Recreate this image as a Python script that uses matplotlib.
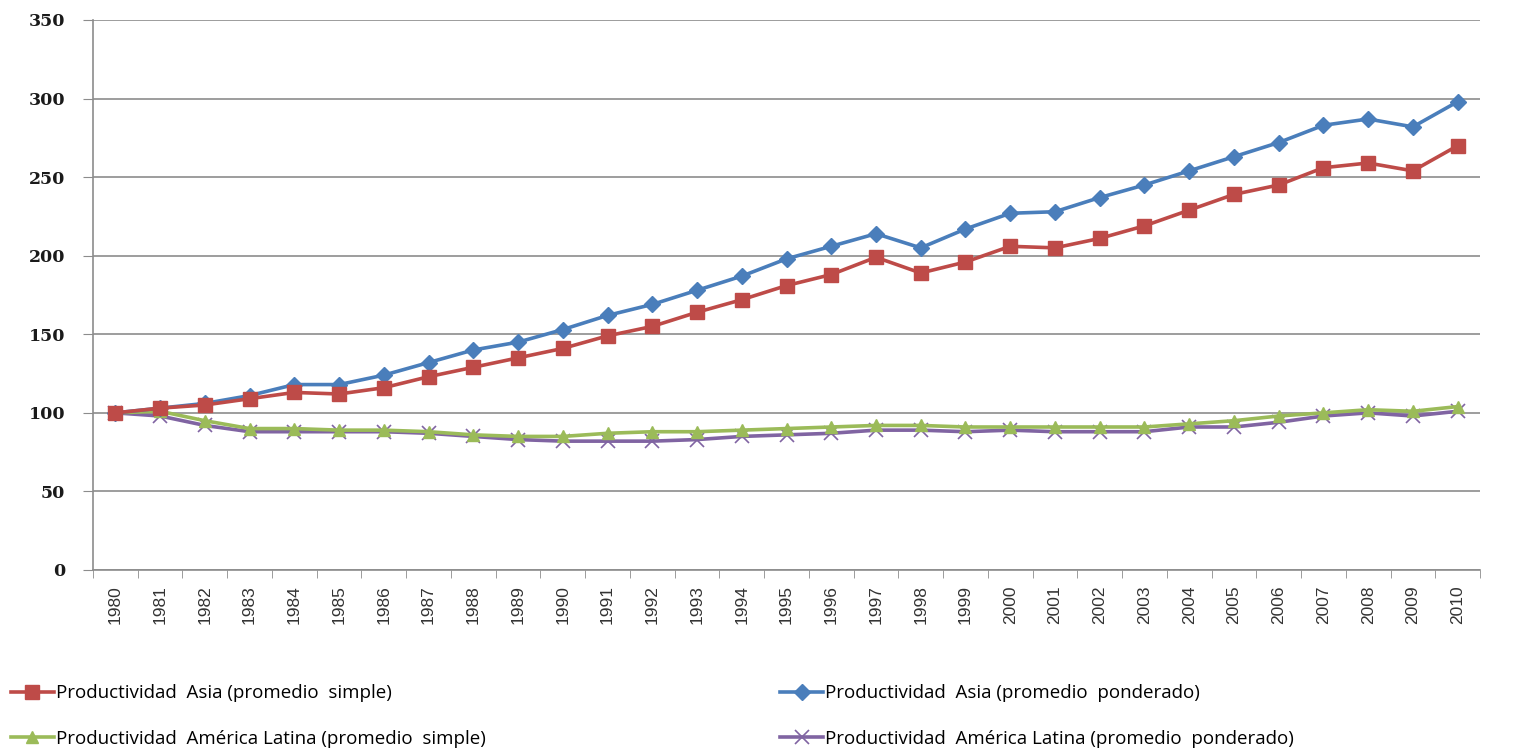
import numpy as np
import matplotlib.pyplot as plt

# Years on the category axis
years = list(range(1980, 2011))

# Series values (index, 1980 = 100)
asia_simple = [100, 103, 105, 109, 113, 112, 116, 123, 129, 135, 141, 149, 155, 164, 172, 181,
               188, 199, 189, 196, 206, 205, 211, 219, 229, 239, 245, 256, 259, 254, 270]
asia_pond = [100, 103, 106, 111, 118, 118, 124, 132, 140, 145, 153, 162, 169, 178, 187, 198,
             206, 214, 205, 217, 227, 228, 237, 245, 254, 263, 272, 283, 287, 282, 298]
al_simple = [100, 101, 95, 90, 90, 89, 89, 88, 86, 85, 85, 87, 88, 88, 89, 90,
             91, 92, 92, 91, 91, 91, 91, 91, 93, 95, 98, 100, 102, 101, 104]
al_pond = [100, 98, 92, 88, 88, 88, 88, 87, 85, 83, 82, 82, 82, 83, 85, 86,
           87, 89, 89, 88, 89, 88, 88, 88, 91, 91, 94, 98, 100, 98, 101]

labels = ["Productividad  Asia (promedio  simple)",
          "Productividad  Asia (promedio  ponderado)",
          "Productividad  América Latina (promedio  simple)",
          "Productividad  América Latina (promedio  ponderado)"]

fig = plt.figure(figsize=(15.21, 7.51), dpi=100)
ax = fig.add_axes([93 / 1521, 1 - 570 / 751, 1387 / 1521, 550 / 751])

x = np.arange(len(years))
l_purple, = ax.plot(x, al_pond, color="#8064A2", lw=2.6, marker="x", ms=10, mew=1.2,
                    mec="#8064A2", zorder=3)
l_green, = ax.plot(x, al_simple, color="#9BBB59", lw=2.6, marker="^", ms=9,
                   mec="#9BBB59", zorder=4)
l_blue, = ax.plot(x, asia_pond, color="#4A7EBB", lw=2.6, marker="D", ms=8,
                  mec="#4A7EBB", zorder=5)
l_red, = ax.plot(x, asia_simple, color="#BE4B48", lw=2.6, marker="s", ms=10,
                 mec="#BE4B48", zorder=6)

ax.set_xlim(-0.5, len(years) - 0.5)
ax.set_ylim(0, 350)
ax.set_yticks(range(0, 351, 50))
ax.yaxis.grid(True, color="#8c8c8c", lw=1.2)
ax.set_axisbelow(True)

ax.set_xticks(x)
ax.set_xticklabels([str(y) for y in years], rotation=90, family="Liberation Sans",
                   fontsize=12.5, color="#333333")
ax.set_xticks(np.arange(-0.5, len(years), 1), minor=True)
ax.tick_params(axis="x", which="major", length=0, pad=11)
ax.tick_params(axis="x", which="minor", length=6, color="#8c8c8c")
ax.tick_params(axis="y", length=7, color="#8c8c8c", pad=13)
for t in ax.get_yticklabels():
    t.set_family("DejaVu Serif")
    t.set_fontsize(12.5)
    t.set_fontweight("bold")
    t.set_color("#1a1a1a")

for s in ["top", "right"]:
    ax.spines[s].set_visible(False)
for s in ["left", "bottom"]:
    ax.spines[s].set_color("#8c8c8c")
    ax.spines[s].set_linewidth(1.2)

fig.legend([l_red, l_green, l_blue, l_purple],
           [labels[0], labels[2], labels[1], labels[3]],
           ncol=2, loc="lower left", bbox_to_anchor=(-0.004, -0.018),
           frameon=False, handlelength=2.3, handletextpad=0.1,
           columnspacing=15.7, labelspacing=1.45,
           prop={"family": "Open Sans", "size": 13.5})

fig.savefig("out.png", dpi=100)
